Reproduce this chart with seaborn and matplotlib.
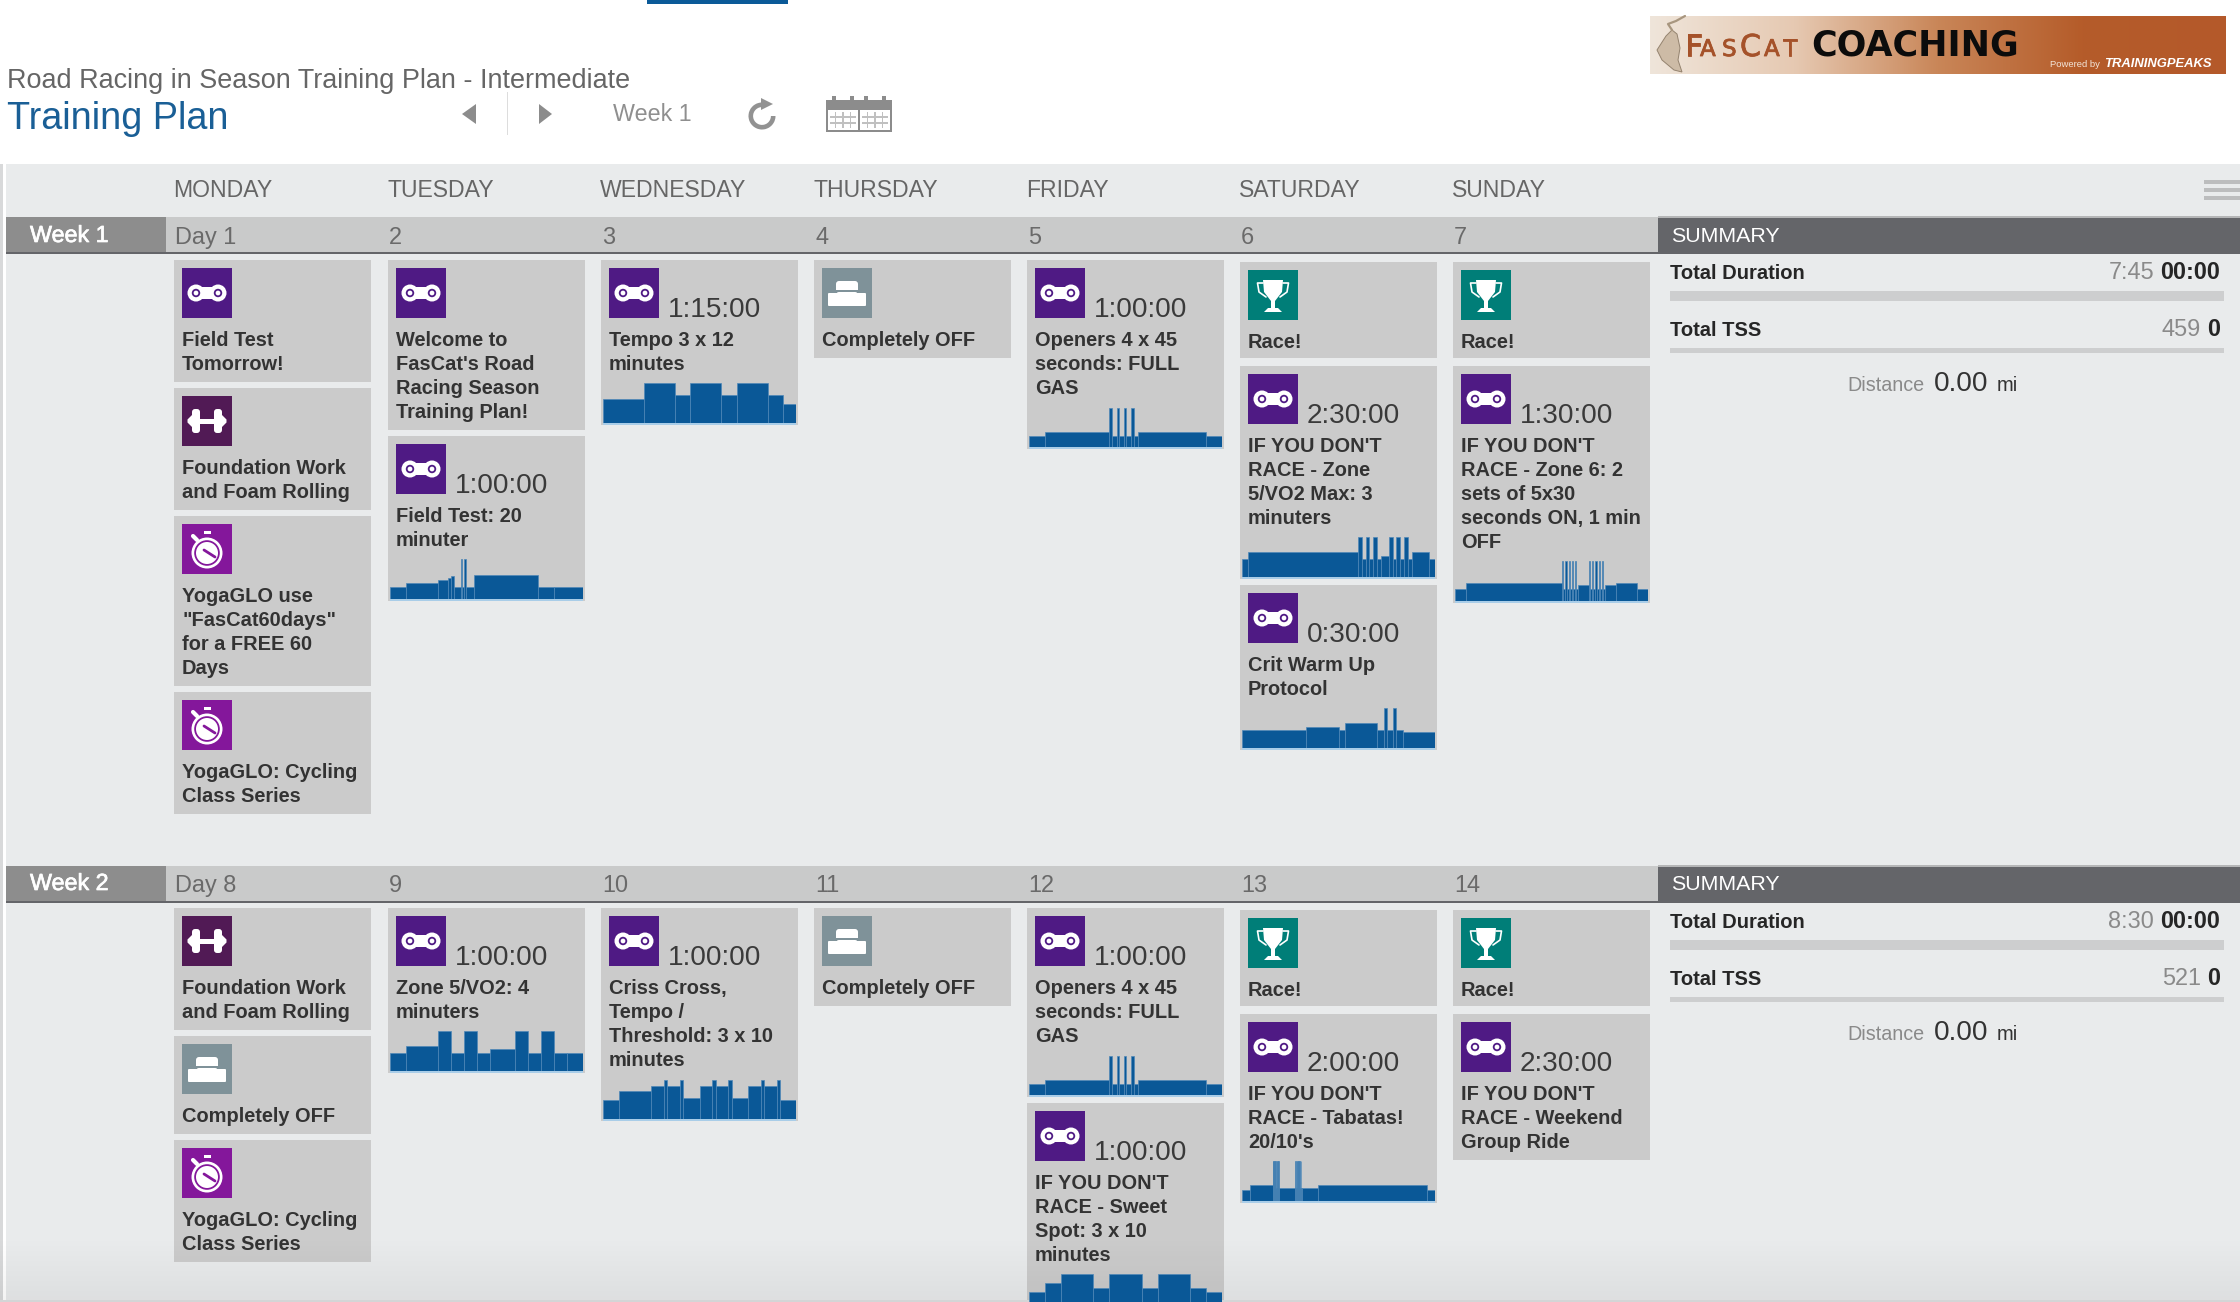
import numpy as np
import seaborn as sns
import matplotlib.pyplot as plt
import matplotlib.patheffects as pe
from matplotlib.patches import Rectangle, Circle, Wedge, Polygon, FancyBboxPatch
from matplotlib.colors import LinearSegmentedColormap

W, H = 2240, 1302

# Header texts
plan_name = "Road Racing in Season Training Plan - Intermediate"
page_title = "Training Plan"
week_picker = "Week 1"
weekdays = ["MONDAY", "TUESDAY", "WEDNESDAY", "THURSDAY", "FRIDAY", "SATURDAY", "SUNDAY"]

# Workout profiles: minutes per step and bar level
field_test_min = [5, 10, 3, 1, 1, 2, 0.5, 0.5, 0.5, 2.5, 20, 5, 9]
field_test_lvl = [12, 16, 19, 21, 23, 12, 40, 12, 40, 12, 24, 12, 12]
tempo_min = [16, 12, 6, 12, 6, 12, 6, 5]
tempo_lvl = [24, 40, 28, 40, 28, 40, 28, 19]
openers_min = [5, 20, 0.75, 1.5, 0.75, 1.5, 0.75, 1.5, 0.75, 1.5, 21, 5]
openers_lvl = [11, 15, 39, 11, 39, 11, 39, 11, 39, 11, 15, 11]
vo2_min = [5, 85, 3, 3, 3, 3, 3, 3, 6, 3, 3, 3, 3, 3, 3, 13, 5]
vo2_lvl = [18, 25, 40, 18, 40, 18, 40, 18, 21, 40, 18, 40, 18, 40, 18, 25, 18]
zone6_min = [5, 45, 0.5, 1, 0.5, 1, 0.5, 1, 0.5, 1, 0.5, 1, 5,
             0.5, 1, 0.5, 1, 0.5, 1, 0.5, 1, 0.5, 1, 5, 10, 5]
zone6_lvl = [12, 18, 40, 12, 40, 12, 40, 12, 40, 12, 40, 12, 16,
             40, 12, 40, 12, 40, 12, 40, 12, 40, 12, 16, 18, 12]
crit_min = [10, 5, 1, 5, 1, 0.5, 1, 0.5, 1, 5]
crit_lvl = [18, 21, 18, 25, 18, 40, 18, 40, 18, 16]
zone5_min = [5, 10, 4, 4, 4, 4, 8, 4, 4, 4, 4, 5]
zone5_lvl = [18, 25, 40, 18, 40, 18, 22, 40, 18, 40, 18, 18]
criss_min = [5, 10, 4, 1, 4, 1, 5, 4, 1, 4, 1, 5, 4, 1, 4, 1, 5]
criss_lvl = [19, 28, 33, 39, 33, 39, 21, 33, 39, 33, 39, 21, 33, 39, 33, 39, 19]
sweet_min = [5, 5, 10, 5, 10, 5, 10, 5, 5]
sweet_lvl = [22, 31, 40, 26, 40, 26, 40, 26, 22]
tabata_min = [5, 14, 0.33, 0.17, 0.33, 0.17, 0.33, 0.17, 0.33, 0.17,
              0.33, 0.17, 0.33, 0.17, 0.33, 0.17, 0.33, 0.17, 10,
              0.33, 0.17, 0.33, 0.17, 0.33, 0.17, 0.33, 0.17,
              0.33, 0.17, 0.33, 0.17, 0.33, 0.17, 0.33, 0.17, 10, 68, 5]
tabata_lvl = [11, 16, 40, 13, 40, 13, 40, 13, 40, 13,
              40, 13, 40, 13, 40, 13, 40, 13, 13,
              40, 13, 40, 13, 40, 13, 40, 13,
              40, 13, 40, 13, 40, 13, 40, 13, 13, 16, 11]

profiles = {
    "field_test": (field_test_min, field_test_lvl),
    "tempo": (tempo_min, tempo_lvl),
    "openers": (openers_min, openers_lvl),
    "vo2": (vo2_min, vo2_lvl),
    "zone6": (zone6_min, zone6_lvl),
    "crit": (crit_min, crit_lvl),
    "zone5": (zone5_min, zone5_lvl),
    "criss": (criss_min, criss_lvl),
    "sweet": (sweet_min, sweet_lvl),
    "tabata": (tabata_min, tabata_lvl),
}

# Week 1 workouts
w1_day = [0, 0, 0, 0, 1, 1, 2, 3, 4, 5, 5, 5, 6, 6]
w1_icon = ["bike", "strength", "yoga", "yoga", "bike", "bike", "bike", "off", "bike",
           "race", "bike", "bike", "race", "bike"]
w1_time = ["", "", "", "", "", "1:00:00", "1:15:00", "", "1:00:00",
           "", "2:30:00", "0:30:00", "", "1:30:00"]
w1_title = [
    ["Field Test", "Tomorrow!"],
    ["Foundation Work", "and Foam Rolling"],
    ["YogaGLO use", "\"FasCat60days\"", "for a FREE 60", "Days"],
    ["YogaGLO: Cycling", "Class Series"],
    ["Welcome to", "FasCat's Road", "Racing Season", "Training Plan!"],
    ["Field Test: 20", "minuter"],
    ["Tempo 3 x 12", "minutes"],
    ["Completely OFF"],
    ["Openers 4 x 45", "seconds: FULL", "GAS"],
    ["Race!"],
    ["IF YOU DON'T", "RACE - Zone", "5/VO2 Max: 3", "minuters"],
    ["Crit Warm Up", "Protocol"],
    ["Race!"],
    ["IF YOU DON'T", "RACE - Zone 6: 2", "sets of 5x30", "seconds ON, 1 min", "OFF"],
]
w1_profile = [None, None, None, None, None, "field_test", "tempo", None, "openers",
              None, "vo2", "crit", None, "zone6"]

# Week 2 workouts
w2_day = [0, 0, 0, 1, 2, 3, 4, 4, 5, 5, 6, 6]
w2_icon = ["strength", "off", "yoga", "bike", "bike", "off", "bike", "bike",
           "race", "bike", "race", "bike"]
w2_time = ["", "", "", "1:00:00", "1:00:00", "", "1:00:00", "1:00:00",
           "", "2:00:00", "", "2:30:00"]
w2_title = [
    ["Foundation Work", "and Foam Rolling"],
    ["Completely OFF"],
    ["YogaGLO: Cycling", "Class Series"],
    ["Zone 5/VO2: 4", "minuters"],
    ["Criss Cross,", "Tempo /", "Threshold: 3 x 10", "minutes"],
    ["Completely OFF"],
    ["Openers 4 x 45", "seconds: FULL", "GAS"],
    ["IF YOU DON'T", "RACE - Sweet", "Spot: 3 x 10", "minutes"],
    ["Race!"],
    ["IF YOU DON'T", "RACE - Tabatas!", "20/10's"],
    ["Race!"],
    ["IF YOU DON'T", "RACE - Weekend", "Group Ride"],
]
w2_profile = [None, None, None, "zone5", "criss", None, "openers", "sweet",
              None, "tabata", None, None]

# Summary panels
week_names = ["Week 1", "Week 2"]
first_days = [1, 8]
total_duration = ["7:45", "8:30"]
total_tss = ["459", "521"]
done_duration = "00:00"
done_tss = "0"
distance = "0.00"

BG = "#e9ebec"
CARD = "#cbcbcb"
DARK = "#333333"
BLUE = "#0a5897"
ICON_BG = {"bike": "#4f1a84", "strength": "#511a55", "yoga": "#84179b",
           "off": "#7f9299", "race": "#007e78"}
COL_LEFT = [174, 388, 601, 814, 1027, 1240, 1453]
CARD_W = 197
WEEK_TOP = [217, 866]
CARD_TOP = [260, 908]

sns.set_theme(style="white")
plt.rcParams["font.family"] = ["Liberation Sans", "DejaVu Sans"]

fig = plt.figure(figsize=(W / 100, H / 100), dpi=100, facecolor="white")
ax = fig.add_axes([0, 0, 1, 1])
ax.set_xlim(0, W)
ax.set_ylim(H, 0)
ax.axis("off")


def rect(x0, y0, x1, y1, color, z=1, **kw):
    ax.add_patch(Rectangle((x0, y0), x1 - x0, y1 - y0, facecolor=color, edgecolor="none", zorder=z, **kw))


def label(x, y, s, px, color=DARK, weight="normal", ha="left", va="baseline", z=5, **kw):
    return ax.text(x, y, s, fontsize=px * 0.72, color=color, fontweight=weight, ha=ha, va=va, zorder=z, **kw)


def draw_icon(x, y, kind):
    bg = ICON_BG[kind]
    rect(x, y, x + 50, y + 50, bg, z=3)
    cx, cy = x + 25, y + 25
    white = dict(facecolor="white", edgecolor="none", zorder=4)
    if kind == "bike":
        ax.add_patch(Circle((cx - 11, cy), 8.5, **white))
        ax.add_patch(Circle((cx + 11, cy), 8.5, **white))
        ax.add_patch(Rectangle((cx - 11, cy - 6), 22, 12, **white))
        for dx in (-11, 11):
            ax.add_patch(Circle((cx + dx, cy), 3.3, facecolor="white", edgecolor=bg, linewidth=1.3, zorder=5))
    elif kind == "strength":
        ax.add_patch(Rectangle((cx - 10, cy - 2.5), 20, 5, **white))
        for s in (-1, 1):
            ax.add_patch(FancyBboxPatch((cx + s * 11 - 4, cy - 12), 8, 24, boxstyle="round,pad=0,rounding_size=3", **white))
            ax.add_patch(Polygon([(cx + s * 13, cy - 8), (cx + s * 19.5, cy - 1.5), (cx + s * 19.5, cy + 1.5), (cx + s * 13, cy + 8)], **white))
    elif kind == "yoga":
        cy = y + 29
        ax.add_patch(Circle((cx, cy), 15.5, **white))
        ax.add_patch(Circle((cx, cy), 12.8, facecolor=bg, edgecolor="none", zorder=4))
        ax.add_patch(Circle((cx, cy), 11, **white))
        ax.plot([cx - 3, cx + 8], [cy - 3, cy + 4], color=bg, lw=2, zorder=5, solid_capstyle="round")
        ax.add_patch(Rectangle((cx - 3.5, y + 6.5), 7, 3.5, **white))
        ax.plot([cx - 14, cx - 10], [cy - 17, cy - 13], color="white", lw=3, zorder=4)
    elif kind == "off":
        ax.add_patch(FancyBboxPatch((cx - 11, y + 13), 22, 12, boxstyle="round,pad=0,rounding_size=3", **white))
        ax.add_patch(FancyBboxPatch((cx - 19, y + 25), 38, 13, boxstyle="round,pad=0,rounding_size=1", **white))
        ax.add_patch(Rectangle((cx - 11, y + 22), 22, 1.8, facecolor=bg, edgecolor="none", zorder=5))
    elif kind == "race":
        ax.add_patch(Polygon([(cx - 10, y + 10), (cx + 10, y + 10), (cx + 9, y + 22), (cx + 2, y + 31), (cx - 2, y + 31), (cx - 9, y + 22)], **white))
        ax.add_patch(Rectangle((cx - 2, y + 30), 4, 9, **white))
        ax.add_patch(Polygon([(cx - 9, y + 42), (cx + 9, y + 42), (cx + 5, y + 38), (cx - 5, y + 38)], **white))
        for s in (-1, 1):
            ax.plot([cx + s * 10, cx + s * 15.5, cx + s * 14, cx + s * 7],
                    [y + 13, y + 13, y + 22, y + 27], color="white", lw=1.2, zorder=4)


def draw_profile(left, bottom, minutes, levels):
    base = bottom - 2
    rect(left + 2, base, left + CARD_W - 2, bottom, "#a9cde8", z=3)
    # one inset per card, 1 level unit = 1 pixel
    pax = fig.add_axes([(left + 2) / W, 1 - base / H, (CARD_W - 4) / W, 60 / H])
    edges = np.concatenate([[0], np.cumsum(minutes)])
    mids = (edges[:-1] + edges[1:]) / 2
    sns.histplot(x=mids, weights=levels, bins=edges.tolist(), ax=pax, color=BLUE, alpha=1,
                 edgecolor="#4f88b8", linewidth=0.5, legend=False)
    pax.set_xlim(0, edges[-1])
    pax.set_ylim(0, 60)
    pax.axis("off")


def draw_week(card_top, days, icons, times, titles, prof_names):
    # Saturday and Sunday start a little lower
    next_y = [card_top, card_top, card_top, card_top, card_top, card_top + 2, card_top + 2]
    for day, icon, time_txt, title, pname in zip(days, icons, times, titles, prof_names):
        left = COL_LEFT[day]
        y = next_y[day]
        h = 74 + 24 * len(title) + (43 if pname else 0)
        gap = 6
        if icon == "race":
            h -= 2
            gap = 8
        rect(left, y, left + CARD_W, y + h, CARD, z=2)
        draw_icon(left + 8, y + 8, icon)
        if time_txt:
            label(left + 67, y + 57, time_txt, 28, color="#3a3a3a")
        for i, line in enumerate(title):
            label(left + 8, y + 86 + 24 * i, line, 20, weight="bold")
        if pname:
            draw_profile(left, y + h, *profiles[pname])
        next_y[day] = y + h + gap


def draw_summary(top, duration, tss):
    rect(1658, top - 1, W, top + 1, "#b5b6b7", z=3)
    rect(1658, top + 1, W, top + 37, "#646569", z=3)
    label(1671, top + 19, "SUMMARY", 21.4, color="white", va="center")
    rows = [("Total Duration", duration, done_duration, top + 62, top + 74, top + 84),
            ("Total TSS", tss, done_tss, top + 119, top + 131, top + 136)]
    for name, planned, done, text_y, bar0, bar1 in rows:
        label(1670, text_y, name, 20.2, color="#262626", weight="bold")
        t = label(2220, text_y, done, 23.4, color="#262626", weight="bold", ha="right")
        fig.canvas.draw()
        x0 = ax.transData.inverted().transform(t.get_window_extent().get_points())[0, 0]
        label(x0 - 6, text_y, planned, 23.5, color="#8a8a8a", ha="right")
        rect(1670, bar0, 2224, bar1, "#cdcecf", z=3)
    label(1847, top + 174, "Distance", 19.8, color="#8a8a8a")
    label(1934, top + 174, distance, 28)
    label(1997, top + 174, "mi", 20)


# page background
rect(0, 164, W, H, BG, z=0)
rect(0, 164, 2.5, H, "#d8d9da", z=0.5)
rect(2.5, 164, 6, H, "white", z=0.5)

# header
rect(647, 0, 788, 4, "#0b5a98")
label(7, 88, plan_name, 27, color="#666666")
label(7, 129, page_title, 37.8, color="#1a5f96")
ax.add_patch(Polygon([(476, 104), (476, 124), (462, 114)], facecolor="#8c8c8c", edgecolor="none"))
ax.add_patch(Polygon([(539, 104), (539, 124), (552, 114)], facecolor="#8c8c8c", edgecolor="none"))
rect(506.5, 92, 507.5, 135, "#dddddd")
label(613, 121, week_picker, 23.3, color="#8f8f8f")

# refresh icon
ax.add_patch(Wedge((762, 116), 13.5, 0, 272, width=4.6, facecolor="#929292", edgecolor="none"))
ax.add_patch(Polygon([(761, 98), (773, 104), (761, 110)], facecolor="#929292", edgecolor="none"))

# calendar icon
rect(826, 100, 892, 132, "#8c8c8c")
for px in (834, 852, 866, 884):
    rect(px - 2, 96, px + 2, 101, "#8c8c8c")
for x0, x1 in ((828, 858), (860, 890)):
    rect(x0, 110, x1, 130, "white", z=2)
    for g in range(1, 4):
        rect(x0 + g * 7.5 - 0.7, 112, x0 + g * 7.5 + 0.7, 128, "#c0c0c0", z=3)
    rect(x0 + 2, 116, x1 - 2, 117.5, "#c0c0c0", z=3)
    rect(x0 + 2, 122, x1 - 2, 123.5, "#c0c0c0", z=3)

# banner
banner_cmap = LinearSegmentedColormap.from_list("banner", ["#efe5da", "#e6c9b2", "#c98658", "#b55c2a", "#b4592a"])
ax.imshow(np.linspace(0, 1, 256).reshape(1, -1), cmap=banner_cmap, extent=(1650, 2226, 74, 16),
          aspect="auto", zorder=1)
ax.set_xlim(0, W)
ax.set_ylim(H, 0)
# the cat on the left of the banner
ax.add_patch(Polygon([(1666, 36), (1672, 30), (1677, 34), (1680, 48), (1678, 60), (1682, 72),
                      (1674, 70), (1662, 60), (1657, 50)], facecolor="#cdbba6", edgecolor="#94836f",
                     linewidth=0.7, zorder=2))
ax.plot([1672, 1668, 1676, 1685], [30, 24, 21, 16], color="#a8967f", lw=1.6, zorder=2)
fas_letters = ["F", "A", "S", "C", "A", "T"]
fas_sizes = [30, 23, 23, 30, 23, 23]
fas_x = [1685, 1700, 1722, 1740, 1764, 1783]
for ch, sz, fx in zip(fas_letters, fas_sizes, fas_x):
    label(fx, 56, ch, sz, color="#a5522a", family="DejaVu Sans",
          path_effects=[pe.withStroke(linewidth=0.6, foreground="#a5522a")])
label(1811, 56, "COACHING", 35, color="#0c0c0c", weight="bold", family="DejaVu Sans")
label(2050, 67, "Powered by", 9.5, color="#f2e4d8")
label(2104, 67, "TRAININGPEAKS", 13, color="white", weight="bold", style="italic")

# weekday row
for c, name in zip(COL_LEFT, weekdays):
    label(c - 1, 197, name, 23, color="#666666")
rect(2204, 180, W, 184, "#bcbdbe")
rect(2204, 187.5, W, 191.5, "#bcbdbe")
rect(2204, 196, W, 200, "#bcbdbe")

# week bands
for k, top in enumerate(WEEK_TOP):
    rect(6, top, 1658, top + 35, "#c9caca")
    rect(6, top, 166, top + 35, "#8d8d8d", z=1.5)
    rect(6, top + 35, W, top + 37, "#646569", z=1.5)
    label(30, top + 25 - k, week_names[k], 23.3, color="white",
          path_effects=[pe.withStroke(linewidth=0.5, foreground="white")])
    for d, c in enumerate(COL_LEFT):
        txt = f"Day {first_days[k]}" if d == 0 else str(first_days[k] + d)
        label(c + 1, top + 27 - k, txt, 23.5, color="#6a6a6a")

draw_week(CARD_TOP[0], w1_day, w1_icon, w1_time, w1_title, w1_profile)
draw_week(CARD_TOP[1], w2_day, w2_icon, w2_time, w2_title, w2_profile)
draw_summary(WEEK_TOP[0], total_duration[0], total_tss[0])
draw_summary(WEEK_TOP[1], total_duration[1], total_tss[1])

# slight shade along the bottom edge
shade = np.zeros((64, 1, 4))
shade[..., 3] = np.linspace(0, 0.05, 64).reshape(-1, 1)
ax.imshow(shade, extent=(0, W, 1300, 1236), aspect="auto", zorder=4.5)
ax.set_xlim(0, W)
ax.set_ylim(H, 0)
rect(0, 1300, W, H, "#d4d5d6", z=4.6)

fig.savefig("out.png", dpi=100)
